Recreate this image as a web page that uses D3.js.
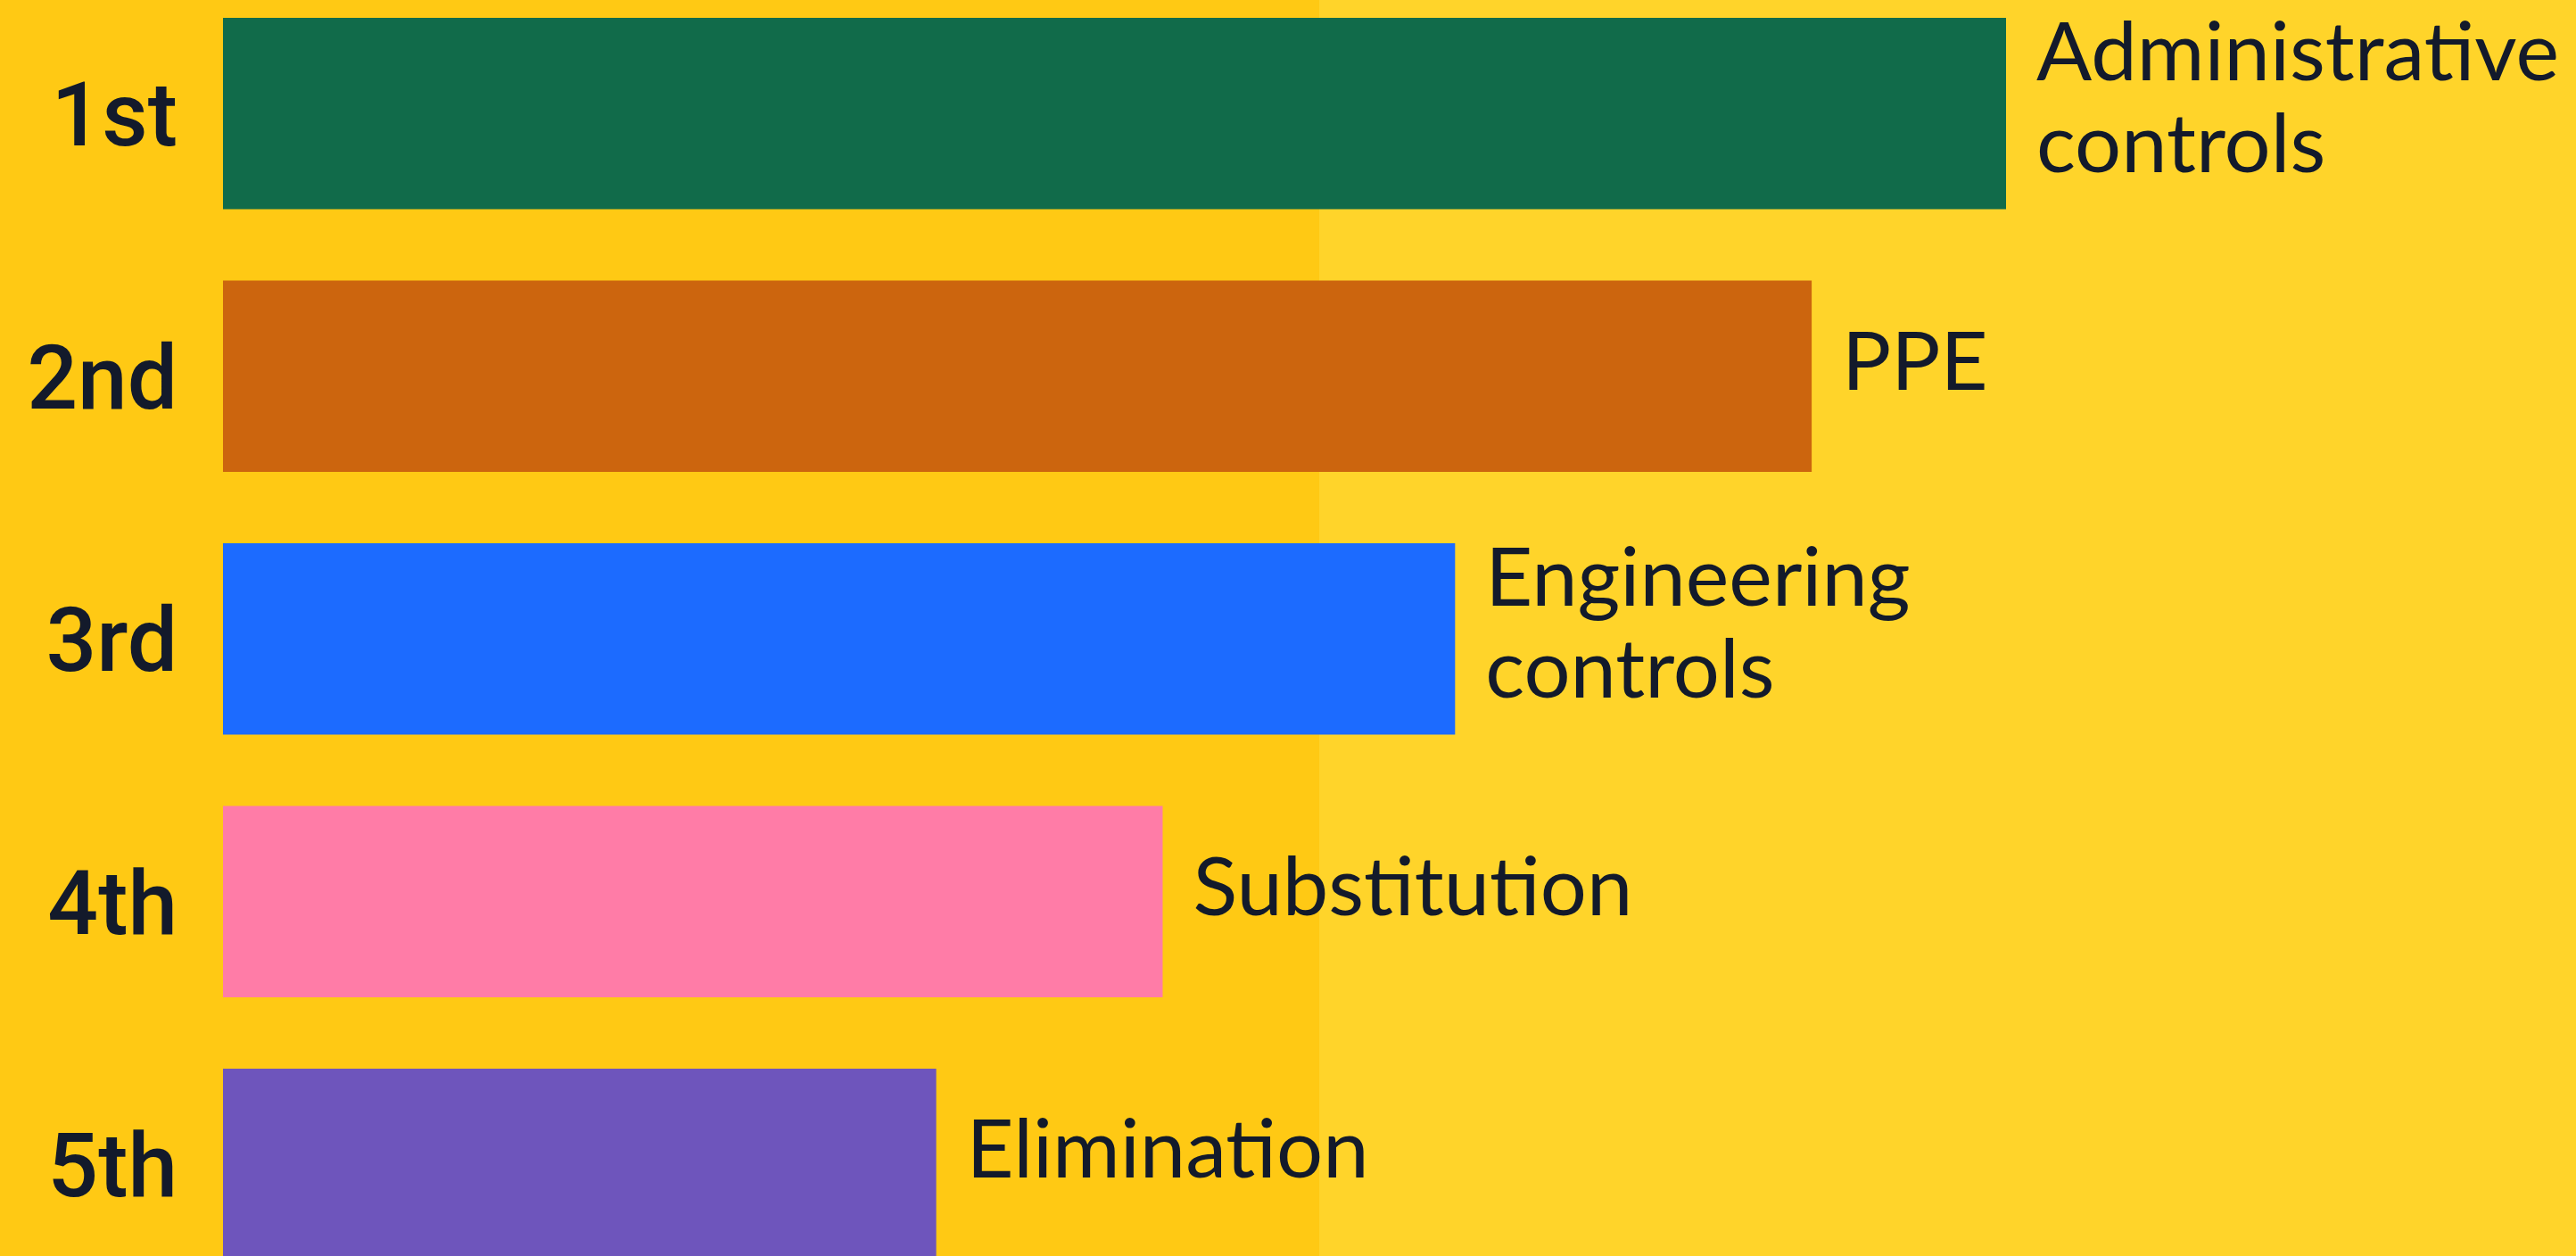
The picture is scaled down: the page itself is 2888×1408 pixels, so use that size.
<!DOCTYPE html>
<html>
<head>
<meta charset="utf-8">
<script src="https://cdn.jsdelivr.net/npm/d3@7"></script>
<style>
  html, body { margin: 0; padding: 0; background: #FFD42A; }
  svg { display: block; }
</style>
</head>
<body>
<svg id="chart" width="2888" height="1408"></svg>
<script>
// Ranked hierarchy-of-controls measures
const ranks = ["1st", "2nd", "3rd", "4th", "5th"];
const measures = [["Administrative", "controls"], ["PPE"], ["Engineering", "controls"], ["Substitution"], ["Elimination"]];
const values = [100, 89.1, 69.1, 52.7, 40.0];
const colors = ["#116B4A", "#CC650E", "#1C6BFF", "#FF7CA7", "#6E55BC"];

const W = 2888, H = 1408;
const svg = d3.select("#chart");

// two-tone backdrop
svg.append("rect").attr("x", 0).attr("y", 0).attr("width", W).attr("height", H).attr("fill", "#FFD42A");
svg.append("rect").attr("x", 0).attr("y", 0).attr("width", 1479).attr("height", H).attr("fill", "#FFC914");

const x = d3.scaleLinear().domain([0, 100]).range([250, 2249]);
const y = d3.scaleBand().domain(ranks).range([20, 1412.5]).paddingInner(80 / 294.5).paddingOuter(0);

const rows = svg.selectAll("g.row")
  .data(ranks.map((r, i) => ({ rank: r, label: measures[i], value: values[i], color: colors[i] })))
  .join("g").attr("class", "row");

rows.append("rect")
  .attr("x", x(0))
  .attr("y", d => y(d.rank))
  .attr("width", d => x(d.value) - x(0))
  .attr("height", y.bandwidth())
  .attr("fill", d => d.color);

rows.append("text")
  .attr("x", 199)
  .attr("y", d => y(d.rank) + y.bandwidth() / 2 + 36)
  .attr("text-anchor", "end")
  .attr("font-family", "Roboto, 'Liberation Sans', sans-serif")
  .attr("font-weight", 500)
  .attr("font-size", 100)
  .attr("fill", "#131A2B")
  .text(d => d.rank);

const lbl = rows.append("text")
  .attr("font-family", "Lato, 'Noto Sans', sans-serif")
  .attr("font-size", 92)
  .attr("fill", "#131A2B");

lbl.each(function(d) {
  const t = d3.select(this);
  const cx = x(d.value) + 34;
  const cy = y(d.rank) + y.bandwidth() / 2;
  if (d.label.length === 1) {
    t.append("tspan").attr("x", cx).attr("y", cy + 15).text(d.label[0]);
  } else {
    d.label.forEach((s, k) => {
      t.append("tspan").attr("x", cx).attr("y", cy - 37 + k * 103).text(s);
    });
  }
});
</script>
</body>
</html>
